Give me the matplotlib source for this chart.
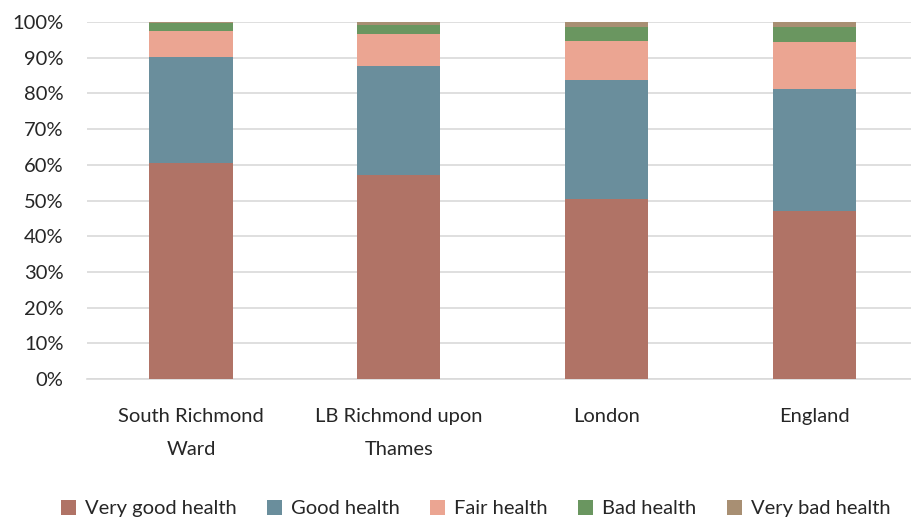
import matplotlib
matplotlib.use("Agg")
import matplotlib.pyplot as plt
from matplotlib.ticker import PercentFormatter
import numpy as np

areas = ["South Richmond\nWard", "LB Richmond upon\nThames", "London", "England"]
series = ["Very good health", "Good health", "Fair health", "Bad health", "Very bad health"]
very_good = [60.5, 57.1, 50.4, 47.1]
good = [29.7, 30.6, 33.4, 34.1]
fair = [7.3, 8.9, 11.0, 13.2]
bad = [2.2, 2.6, 3.9, 4.3]
very_bad = [0.3, 0.8, 1.3, 1.3]
colors = ["#B07366", "#6A8E9C", "#EBA592", "#6A9660", "#A88F73"]

plt.rcParams["font.family"] = ["Lato", "DejaVu Sans"]

fig = plt.figure(figsize=(9.11, 5.23), dpi=100)
ax = fig.add_axes([0.0955, 0.275, 0.913, 0.683])

x = np.arange(len(areas))
bottom = np.zeros(len(areas))
for name, vals, c in zip(series, [very_good, good, fair, bad, very_bad], colors):
    ax.bar(x, vals, 0.4, bottom=bottom, color=c, label=name, zorder=3)
    bottom += np.array(vals)

ax.set_xlim(-0.5, 3.5)
ax.set_ylim(0, 100)
ax.set_yticks(range(0, 101, 10))
ax.yaxis.set_major_formatter(PercentFormatter(decimals=0))
ax.set_xticks(x)
ax.set_xticklabels(areas, fontsize=14.5, color="#262626", linespacing=2.15)
ax.tick_params(axis="y", labelsize=14.5, colors="#262626", length=0, pad=17)
ax.tick_params(axis="x", length=0, pad=21)
ax.grid(axis="y", color="#D9D9D9", linewidth=1.2, zorder=0)
for s in ["top", "right", "left"]:
    ax.spines[s].set_visible(False)
ax.spines["bottom"].set_color("#D9D9D9")
ax.spines["bottom"].set_linewidth(1.2)

fig.legend(loc="lower center", ncol=5, frameon=False, fontsize=14.5,
           bbox_to_anchor=(0.522, -0.024), handlelength=0.75, handleheight=0.75,
           handletextpad=0.45, columnspacing=1.5, labelcolor="#262626")

fig.savefig("out.png", dpi=100)
